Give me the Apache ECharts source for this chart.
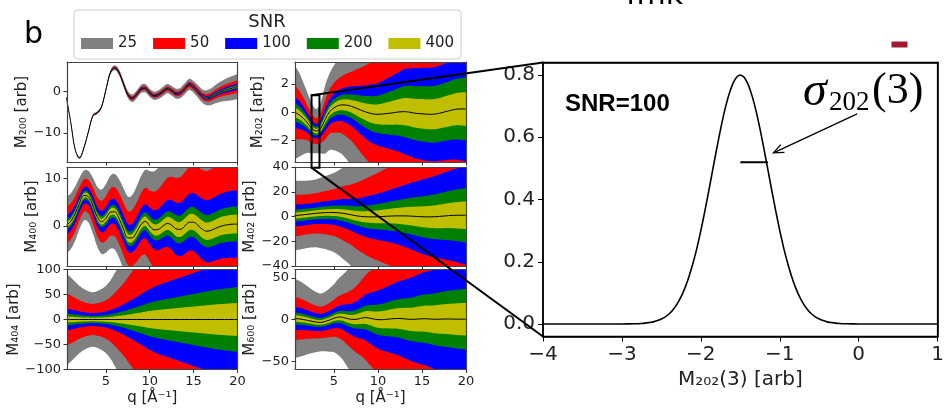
<!DOCTYPE html>
<html>
<head>
<meta charset="utf-8">
<script src="https://cdn.jsdelivr.net/npm/echarts@6/dist/echarts.min.js"></script>
<style>
  html, body { margin: 0; padding: 0; background: #fff; }
  #chart { width: 947px; height: 409px; }
</style>
</head>
<body>
<div id="chart"></div>
<script>
// ---- data -------------------------------------------------------------
const snrLevels = ['25', '50', '100', '200', '400'];

// momentum transfer grid shared by all six multipole panels
const q = [0.5,1,1.5,2,2.5,3,3.5,4,4.5,5,5.5,6,6.5,7,7.5,8,8.5,9,9.5,10,
           10.5,11,11.5,12,12.5,13,13.5,14,14.5,15,15.5,16,16.5,17,17.5,18,18.5,19,19.5,20];

// mean multipole curves (center lines)
const m200Center = [-1.5,-7.5,-14.0,-16.0,-13.6,-9.8,-6.0,-5.2,-3.8,0.3,
                    4.4,5.6,4.5,1.8,-0.8,-1.7,-0.8,0.5,0.7,-0.4,
                    -1.1,-0.8,-0.1,0.6,0.1,-0.6,-0.4,0.6,1.6,1.0,
                    -0.1,-1.2,-1.6,-1.3,-0.7,-0.2,0.2,0.5,0.8,1.1];
const m202Center = [0.0,-0.15,-0.42,-0.75,-1.15,-1.32,-1.1,-0.5,0.05,0.32,
                    0.48,0.53,0.5,0.42,0.3,0.17,0.05,-0.05,-0.12,-0.14,
                    -0.12,-0.08,-0.05,0.0,0.04,0.05,0.02,-0.04,-0.08,-0.1,
                    -0.13,-0.14,-0.12,-0.06,0.02,0.1,0.18,0.23,0.24,0.24];
const m400Center = [0.2,1.0,2.6,4.8,6.4,6.2,4.4,2.0,0.9,1.6,
                    2.9,3.0,1.6,-0.6,-2.5,-2.5,-1.3,0.3,1.0,0.0,
                    -0.8,-0.7,0.0,0.55,0.2,-0.6,-0.7,0.0,0.8,0.8,
                    0.1,-0.7,-1.1,-0.9,-0.5,-0.1,0.15,0.3,0.4,0.4];
const m402Center = [0.8,1.0,1.4,1.8,2.2,2.6,2.9,3.1,3.2,3.2,
                    3.0,2.6,2.0,1.3,0.6,0.1,-0.2,-0.3,-0.3,-0.2,
                    0.0,0.2,0.4,0.5,0.5,0.5,0.4,0.2,0.0,-0.2,
                    -0.3,-0.3,-0.2,0.1,0.4,0.7,0.9,1.0,1.0,1.0];
const m404Center = [0,0,0,0,0,0,0,0,0,0, 0,0,0,0,0,0,0,0,0,0,
                    0,0,0,0,0,0,0,0,0,0, 0,0,0,0,0,0,0,0,0,0];
const m600Center = [1.2,0.8,0.0,-1.0,-2.2,-3.2,-3.5,-2.4,-0.6,1.6,
                    3.0,2.6,1.2,0.2,0.2,1.3,2.3,1.8,0.6,-0.2,
                    -0.2,0.3,0.8,1.2,1.2,0.8,0.3,0.2,0.5,0.9,
                    0.9,0.5,0.3,0.4,0.6,0.6,0.5,0.4,0.4,0.4];

// half-width of the SNR=100 band
const m200Sigma = [0.05,0.05,0.05,0.06,0.06,0.06,0.08,0.08,0.09,0.1,
                   0.13,0.15,0.18,0.2,0.21,0.23,0.24,0.25,0.25,0.25,
                   0.25,0.26,0.28,0.28,0.29,0.3,0.31,0.33,0.34,0.35,
                   0.38,0.4,0.45,0.5,0.55,0.6,0.65,0.7,0.73,0.75];
const m202Sigma = [1.1,1.0,0.85,0.7,0.58,0.52,0.6,0.8,0.9,1.0,
                   1.09,1.18,1.29,1.4,1.55,1.7,1.85,2.0,2.1,2.2,
                   2.33,2.45,2.58,2.7,2.85,3.0,3.08,3.15,3.2,3.25,
                   3.28,3.3,3.33,3.35,3.4,3.45,3.5,3.58,3.64,3.7];
const m400Sigma = [2.0,1.95,1.9,1.8,1.75,1.8,1.95,2.1,2.25,2.4,
                   2.55,2.65,2.75,2.85,2.9,3.0,3.2,3.4,3.6,3.85,
                   4.1,4.35,4.6,4.9,5.2,5.5,5.65,5.8,5.95,6.1,
                   6.25,6.4,6.5,6.6,6.7,6.8,6.9,7.0,7.05,7.1];
const m402Sigma = [8.8,8.7,8.6,8.5,8.5,8.6,8.9,9.2,9.6,10.0,
                   10.7,11.5,12.2,13.0,14.0,15.0,16.0,17.0,17.9,18.7,
                   19.6,20.5,21.5,22.5,23.7,25.0,26.2,27.5,28.7,30.0,
                   31.0,32.0,33.0,34.0,35.0,36.0,37.0,38.0,39.0,40.0];
const m404Sigma = [22,20,18,16,14.5,13.5,13,13.5,14.5,16,
                   18.5,22,26,30,35,40,45,50,56,61,
                   65,69,72,75,78,81,84,87,90,93,
                   96,99,102,105,108,110,112,114,116,118];
const m600Sigma = [14,13.5,12.8,12,11.2,10.6,10.2,10.5,11.2,12,
                   13.5,15,17,19,21.5,24,27,30,32.5,35,
                   37,39,41,43,45,47,49,51,53,55,
                   56.5,58,60,62,63.5,65,66.5,68,69,70];

// band half-width of each SNR level relative to the SNR=100 band (25, 50, 100, 200, 400)
const m200Spread = [4.0, 2.0, 1, 0.5, 0.25];
const m202Spread = [3.0, 1.75, 1, 0.6, 0.32];
const m400Spread = [3.0, 1.95, 1, 0.52, 0.28];
const m402Spread = [3.2, 1.9, 1, 0.55, 0.28];
const m404Spread = [4.2, 2.4, 1, 0.55, 0.28];
const m600Spread = [3.4, 1.85, 1, 0.52, 0.28];

// posterior of M202 at q = 3 for SNR = 100
const histX = [-4.0,-3.5,-3.0,
               -2.85,-2.8,-2.75,-2.7,-2.65,-2.6,-2.55,-2.5,-2.45,-2.4,-2.35,-2.3,-2.25,-2.2,-2.15,-2.1,
               -2.05,-2.0,-1.95,-1.9,-1.85,-1.8,-1.75,-1.7,-1.65,-1.6,-1.55,-1.5,-1.45,-1.4,-1.35,-1.3,
               -1.25,-1.2,-1.15,-1.1,-1.05,-1.0,-0.95,-0.9,-0.85,-0.8,-0.75,-0.7,-0.65,-0.6,-0.55,-0.5,
               -0.45,-0.4,-0.35,-0.3,-0.25,-0.2,-0.15,
               0.0,0.5,1.0];
const histY = [0,0,0,
               0.001,0.001,0.002,0.003,0.005,0.007,0.011,0.016,0.023,0.033,0.047,0.065,0.088,0.117,0.153,0.195,
               0.244,0.300,0.362,0.427,0.495,0.562,0.626,0.684,0.732,0.769,0.792,0.800,0.792,0.769,0.732,0.684,
               0.626,0.562,0.495,0.427,0.362,0.300,0.244,0.195,0.153,0.117,0.088,0.065,0.047,0.033,0.023,0.016,
               0.011,0.007,0.005,0.003,0.002,0.001,0.001,
               0,0,0];
// width marker of the posterior and the arrow pointing at it
const sigmaX = [-1.5, -1.15];
const sigmaY = [0.52, 0.52];
const arrowFrom = [-0.02, 0.675];
const arrowTo = [-1.08, 0.55];
// region of the M202 panel shown in the enlarged view
const zoomQ = [2.45, 3.35];
const zoomM = [1.2, -3.9];

// ---- styling ----------------------------------------------------------
const bandColors = ['#808080', '#ff0000', '#0000ff', '#008000', '#bfbf00'];
const FONT = '"DejaVu Sans", sans-serif';
const TXT = '#222';
const minus = v => (v < 0 ? '\u2212' + String(Math.abs(v)) : String(v));

const cols = [{ left: 67, width: 170.5 }, { left: 295, width: 171 }];
const rows = [{ top: 62, height: 100 }, { top: 167, height: 99 }, { top: 269.5, height: 100 }];
const bigBox = { left: 543, top: 62.5, width: 400, height: 274 };
const qRange = [0.57, 20];
const bigX = [-4, 1];
const bigY = [-0.04, 0.84];

const panels = [
  { name: 'M\u2082\u2080\u2080 [arb]', center: m200Center, sigma: m200Sigma, spread: m200Spread, min: -17, max: 7, ticks: [-10, 0], gap: 34 },
  { name: 'M\u2082\u2080\u2082 [arb]', center: m202Center, sigma: m202Sigma, spread: m202Spread, min: -3.5, max: 3.55, ticks: [-2, 0, 2], gap: 27 },
  { name: 'M\u2084\u2080\u2080 [arb]', center: m400Center, sigma: m400Sigma, spread: m400Spread, min: -8.4, max: 12.4, ticks: [0, 10], gap: 27 },
  { name: 'M\u2084\u2080\u2082 [arb]', center: m402Center, sigma: m402Sigma, spread: m402Spread, min: -40, max: 40, ticks: [-40, -20, 0, 20, 40], gap: 36 },
  { name: 'M\u2084\u2080\u2084 [arb]', center: m404Center, sigma: m404Sigma, spread: m404Spread, min: -100, max: 100, ticks: [-100, -50, 0, 50, 100], gap: 45 },
  { name: 'M\u2086\u2080\u2080 [arb]', center: m600Center, sigma: m600Sigma, spread: m600Spread, min: -60, max: 60, ticks: [-50, 0, 50], gap: 36 }
];

// Catmull-Rom resampling of pixel points so band edges render as smooth curves
function spline(pts, n) {
  const out = [pts[0]];
  for (let i = 0; i < pts.length - 1; i++) {
    const p0 = pts[Math.max(i - 1, 0)], p1 = pts[i], p2 = pts[i + 1], p3 = pts[Math.min(i + 2, pts.length - 1)];
    for (let s = 1; s <= n; s++) {
      const t = s / n, t2 = t * t, t3 = t2 * t;
      const f = (a, b, c, d) => 0.5 * (2 * b + (-a + c) * t + (2 * a - 5 * b + 4 * c - d) * t2 + (-a + 3 * b - 3 * c + d) * t3);
      out.push([f(p0[0], p1[0], p2[0], p3[0]), f(p0[1], p1[1], p2[1], p3[1])]);
    }
  }
  return out;
}

const grids = [], xAxes = [], yAxes = [], series = [];
const topAxes = [], rightAxes = [];
const qTicks = [5, 10, 15, 20];

// spine axes on the top and right edges that close each plot box
function spine(gridIndex, pos, min, max, color, width) {
  return {
    type: 'value', gridIndex: gridIndex, position: pos, min: min, max: max, z: 20,
    axisLine: { show: true, onZero: false, lineStyle: { color: color, width: width } },
    axisTick: { show: false }, axisLabel: { show: false }, splitLine: { show: false }
  };
}

panels.forEach((p, i) => {
  const r = Math.floor(i / 2), c = i % 2;
  grids.push({ left: cols[c].left, width: cols[c].width, top: rows[r].top, height: rows[r].height, containLabel: false });
  const bottom = r === 2;
  xAxes.push({
    type: 'value', gridIndex: i, min: qRange[0], max: qRange[1], z: 20,
    axisLine: { show: true, onZero: false, lineStyle: { color: '#444', width: 1.2 } },
    axisTick: { show: true, length: 3.5, customValues: qTicks, lineStyle: { color: '#333', width: 1 } },
    axisLabel: { show: bottom, customValues: qTicks, margin: 6, fontSize: 13, fontFamily: FONT, color: TXT },
    splitLine: { show: false },
    name: bottom ? 'q [\u00C5\u207B\u00B9]' : '', nameLocation: 'middle', nameGap: 21,
    nameTextStyle: { fontSize: 15, fontFamily: FONT, color: TXT }
  });
  yAxes.push({
    type: 'value', gridIndex: i, min: p.min, max: p.max, z: 20,
    axisLine: { show: true, onZero: false, lineStyle: { color: '#444', width: 1.2 } },
    axisTick: { show: true, length: 3.5, customValues: p.ticks, lineStyle: { color: '#333', width: 1 } },
    axisLabel: { customValues: p.ticks, margin: 6, fontSize: 13, fontFamily: FONT, color: TXT, formatter: minus },
    splitLine: { show: false },
    name: p.name, nameLocation: 'middle', nameGap: p.gap, nameRotate: 90,
    nameTextStyle: { fontSize: 15, fontFamily: FONT, color: TXT }
  });
  topAxes.push(spine(i, 'top', qRange[0], qRange[1], '#444', 1.2));
  rightAxes.push(spine(i, 'right', p.min, p.max, '#444', 1.2));

  // nested confidence bands, widest (lowest SNR) first
  snrLevels.forEach((lvl, k) => {
    const bandRows = q.map((x, j) => [x, p.center[j] - p.sigma[j] * p.spread[k], p.center[j] + p.sigma[j] * p.spread[k]]);
    series.push({
      type: 'custom', name: lvl, xAxisIndex: i, yAxisIndex: i, clip: true, silent: true,
      itemStyle: { color: bandColors[k] },
      encode: { x: 0, y: [1, 2] },
      data: bandRows,
      renderItem: (params, api) => {
        if (params.dataIndex !== 0) return null;
        const up = [], lo = [];
        bandRows.forEach(d => { up.push(api.coord([d[0], d[2]])); lo.push(api.coord([d[0], d[1]])); });
        const pts = spline(up, 5).concat(spline(lo.reverse(), 5));
        return { type: 'polygon', shape: { points: pts }, style: { fill: bandColors[k] } };
      }
    });
  });
  series.push({
    type: 'line', name: 'mean', xAxisIndex: i, yAxisIndex: i, silent: true,
    data: q.map((x, j) => [x, p.center[j]]),
    smooth: 0.35, showSymbol: false, symbol: 'none',
    lineStyle: { color: '#000', width: 1 }
  });
});

// enlarged posterior panel
grids.push(Object.assign({ containLabel: false }, bigBox));
xAxes.push({
  type: 'value', gridIndex: 6, min: bigX[0], max: bigX[1], interval: 1, z: 20,
  axisLine: { show: true, onZero: false, lineStyle: { color: '#000', width: 1.5 } },
  axisTick: { show: true, length: 5, lineStyle: { color: '#000' } },
  axisLabel: { margin: 8, fontSize: 20, fontFamily: FONT, color: TXT, formatter: minus },
  splitLine: { show: false },
  name: 'M\u2082\u2080\u2082(3) [arb]', nameLocation: 'middle', nameGap: 33,
  nameTextStyle: { fontSize: 20, fontFamily: FONT, color: TXT }
});
yAxes.push({
  type: 'value', gridIndex: 6, min: bigY[0], max: bigY[1], z: 20,
  axisLine: { show: true, onZero: false, lineStyle: { color: '#000', width: 1.5 } },
  axisTick: { show: true, length: 5, customValues: [0, 0.2, 0.4, 0.6, 0.8], lineStyle: { color: '#000' } },
  axisLabel: { customValues: [0, 0.2, 0.4, 0.6, 0.8], margin: 8, fontSize: 20, fontFamily: FONT, color: TXT,
               formatter: v => v.toFixed(1) },
  splitLine: { show: false }
});
topAxes.push(spine(6, 'top', bigX[0], bigX[1], '#000', 1.5));
rightAxes.push(spine(6, 'right', bigY[0], bigY[1], '#000', 1.5));

series.push({
  type: 'line', name: 'posterior', xAxisIndex: 6, yAxisIndex: 6, silent: true,
  data: histX.map((x, i) => [x, histY[i]]),
  smooth: 0.2, showSymbol: false, symbol: 'none',
  lineStyle: { color: '#000', width: 1.6 }
});
series.push({
  type: 'line', name: 'sigma', xAxisIndex: 6, yAxisIndex: 6, silent: true,
  data: sigmaX.map((x, i) => [x, sigmaY[i]]),
  showSymbol: false, symbol: 'none',
  lineStyle: { color: '#000', width: 2 }
});
series.push({
  type: 'line', name: 'arrow', xAxisIndex: 6, yAxisIndex: 6, silent: true,
  data: [arrowFrom, arrowTo],
  showSymbol: false, symbol: 'none',
  lineStyle: { color: '#000', width: 1.3 }
});

const chart = echarts.init(document.getElementById('chart'), null, { renderer: 'canvas' });
chart.setOption({
  animation: false,
  backgroundColor: '#fff',
  legend: {
    data: snrLevels, left: 74, top: 10, orient: 'horizontal',
    icon: 'rect', itemWidth: 32, itemHeight: 11, itemGap: 16,
    padding: [26, 7, 8, 7], selectedMode: false,
    borderColor: '#cccccc', borderWidth: 1, borderRadius: 4, backgroundColor: '#fff',
    textStyle: { fontSize: 15, fontFamily: FONT, color: TXT }
  },
  grid: grids,
  xAxis: xAxes.concat(topAxes),
  yAxis: yAxes.concat(rightAxes),
  series: series
});

// annotation texts, arrow head, the enlarged panel's box, and the zoom box with its connectors
const tl = chart.convertToPixel({ gridIndex: 1 }, [zoomQ[0], zoomM[0]]);
const br = chart.convertToPixel({ gridIndex: 1 }, [zoomQ[1], zoomM[1]]);
const bigTL = chart.convertToPixel({ gridIndex: 6 }, [bigX[0], bigY[1]]);
const bigBR = chart.convertToPixel({ gridIndex: 6 }, [bigX[1], bigY[0]]);
const bigBL = chart.convertToPixel({ gridIndex: 6 }, [bigX[0], bigY[0]]);
const a0 = chart.convertToPixel({ gridIndex: 6 }, arrowFrom);
const a1 = chart.convertToPixel({ gridIndex: 6 }, arrowTo);
const ang = Math.atan2(a1[1] - a0[1], a1[0] - a0[0]);
const head = s => [a1[0] - 11 * Math.cos(ang + s * 0.4), a1[1] - 11 * Math.sin(ang + s * 0.4)];

chart.setOption({ graphic: [
  { type: 'rect', id: 'bigFrame', z: 115, silent: true,
    shape: { x: bigTL[0], y: bigTL[1], width: bigBR[0] - bigTL[0], height: bigBR[1] - bigTL[1] },
    style: { fill: null, stroke: '#000', lineWidth: 1.5 } },
  { type: 'text', id: 'panelLetter', x: 24, y: 20, z: 60,
    style: { text: 'b', font: '30px ' + FONT, fill: '#000', verticalAlign: 'top' } },
  { type: 'text', id: 'legendTitle', x: 267, y: 22, z: 60,
    style: { text: 'SNR', font: '18px ' + FONT, fill: TXT, align: 'center', verticalAlign: 'middle' } },
  { type: 'text', id: 'topTitle', x: 626, y: 11.5, z: 60,
    style: { text: 'fmk', font: '30px ' + FONT, fill: '#000', verticalAlign: 'bottom' } },
  { type: 'rect', id: 'mark', z: 60, shape: { x: 891.5, y: 41.5, width: 16, height: 6 }, style: { fill: '#9e1c32' } },
  { type: 'text', id: 'snrLabel', x: 565, y: 104, z: 60,
    style: { text: 'SNR=100', font: 'bold 24px "Liberation Sans", Arial, sans-serif', fill: '#000', verticalAlign: 'middle' } },
  { type: 'text', id: 'sig', x: 803, y: 92, z: 60,
    style: { text: '\u03C3', font: 'italic 48px "Liberation Serif", serif', fill: '#000', verticalAlign: 'middle' } },
  { type: 'text', id: 'sigSub', x: 829, y: 103, z: 60,
    style: { text: '202', font: '27px "Liberation Serif", serif', fill: '#000', verticalAlign: 'middle' } },
  { type: 'text', id: 'sigArg', x: 872, y: 91, z: 60,
    style: { text: '(3)', font: '44px "Liberation Serif", serif', fill: '#000', verticalAlign: 'middle' } },
  { type: 'polyline', id: 'arrowHead', z: 60, silent: true,
    shape: { points: [head(1), a1, head(-1)] }, style: { stroke: '#000', lineWidth: 1.3, fill: null } },
  { type: 'rect', id: 'zoomBox', z: 120, silent: true,
    shape: { x: tl[0], y: tl[1], width: br[0] - tl[0], height: br[1] - tl[1] },
    style: { fill: null, stroke: '#000', lineWidth: 2 } },
  { type: 'line', id: 'linkTop', z: 120, silent: true,
    shape: { x1: tl[0], y1: tl[1], x2: bigTL[0], y2: bigTL[1] },
    style: { stroke: '#000', lineWidth: 2 } },
  { type: 'line', id: 'linkBottom', z: 120, silent: true,
    shape: { x1: tl[0], y1: br[1], x2: bigBL[0], y2: bigBL[1] },
    style: { stroke: '#000', lineWidth: 2 } }
] });
</script>
</body>
</html>
